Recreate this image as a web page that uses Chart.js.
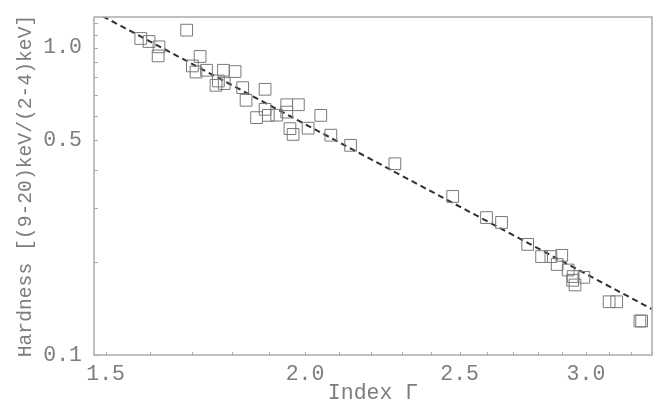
<!DOCTYPE html>
<html>
<head>
<meta charset="utf-8">
<title>Hardness vs photon index</title>
<script src="https://cdn.jsdelivr.net/npm/chart.js@4/dist/chart.umd.min.js"></script>
<style>
  html, body { margin: 0; padding: 0; background: #ffffff; }
  #wrap { width: 663px; height: 404px; }
</style>
</head>
<body>
<div id="wrap"><canvas id="chart" width="663" height="404"></canvas></div>
<script>
// Photon index of each source
const gammaValues = [
  1.686, 1.578, 1.597, 1.620, 1.618, 1.719, 1.700, 1.709, 1.735, 1.778,
  1.808, 1.765, 1.759, 1.780, 1.828, 1.888, 1.837, 1.888, 1.948, 1.981,
  1.865, 1.897, 1.920, 1.948, 2.046, 1.957, 1.966, 2.009, 2.076, 2.136,
  2.277, 2.475, 2.599, 2.656, 2.758, 2.814, 2.852, 2.897, 2.878, 2.924,
  2.945, 2.991, 2.953, 2.943, 3.102, 3.136, 3.243, 3.251
];
// Hardness ratio (9-20 keV)/(2-4 keV) of each source
const hardnessValues = [
  1.140, 1.071, 1.047, 1.006, 0.940, 0.936, 0.872, 0.833, 0.844, 0.844,
  0.836, 0.779, 0.754, 0.764, 0.741, 0.732, 0.674, 0.630, 0.652, 0.652,
  0.592, 0.602, 0.603, 0.617, 0.602, 0.545, 0.522, 0.547, 0.519, 0.481,
  0.419, 0.328, 0.280, 0.270, 0.229, 0.209, 0.209, 0.211, 0.197, 0.189,
  0.180, 0.179, 0.169, 0.175, 0.149, 0.149, 0.129, 0.129
];
// End points of the power-law relation (straight in log-log)
const fitGamma = [1.475, 3.3];
const fitHardness = [1.31, 0.141];

// Axis ticks
const xTickValues = [1.5, 1.6, 1.7, 1.8, 1.9, 2.0, 2.1, 2.2, 2.3, 2.4, 2.5, 2.6, 2.7, 2.8, 2.9, 3.0, 3.1, 3.2, 3.3];
const xTickLabels = [1.5, 2.0, 2.5, 3.0];
const yTickValues = [0.1, 0.2, 0.3, 0.4, 0.5, 0.6, 0.7, 0.8, 0.9, 1.0, 1.1, 1.2];
const yTickLabels = [0.1, 0.5, 1.0];

const FONT = "'Liberation Mono', 'Courier New', monospace";
const TEXT = '#7d7d7d';
const AXIS = '#ababab';

const points = gammaValues.map((g, i) => ({ x: g, y: hardnessValues[i] }));
const fitPoints = fitGamma.map((g, i) => ({ x: g, y: fitHardness[i] }));

const isLabelled = (list, v) => list.some(t => Math.abs(t - v) < 1e-9);

// Frame around the plot plus short inward tick marks
const framePlugin = {
  id: 'frame',
  afterDatasetsDraw(chart) {
    const { ctx, chartArea: a, scales } = chart;
    ctx.save();
    ctx.strokeStyle = AXIS;
    ctx.lineWidth = 1.5;
    ctx.strokeRect(a.left, a.top, a.right - a.left, a.bottom - a.top);
    ctx.lineWidth = 1;
    ctx.beginPath();
    xTickValues.forEach(v => {
      const px = Math.round(scales.x.getPixelForValue(v)) + 0.5;
      ctx.moveTo(px, a.bottom);
      ctx.lineTo(px, a.bottom - 3);
    });
    yTickValues.forEach(v => {
      const py = Math.round(scales.y.getPixelForValue(v)) + 0.5;
      ctx.moveTo(a.left, py);
      ctx.lineTo(a.left + 4, py);
    });
    ctx.stroke();
    ctx.restore();
  }
};

new Chart(document.getElementById('chart'), {
  type: 'scatter',
  data: {
    datasets: [
      {
        label: 'sources',
        data: points,
        pointStyle: 'rect',
        pointRadius: 8.3,
        pointHoverRadius: 8.3,
        pointBorderWidth: 1,
        pointBorderColor: '#7a7a7a',
        pointBackgroundColor: 'rgba(0,0,0,0)',
        showLine: false
      },
      {
        label: 'fit',
        type: 'line',
        data: fitPoints,
        borderColor: '#303030',
        borderWidth: 2,
        borderDash: [6, 4],
        pointRadius: 0,
        fill: false,
        showLine: true
      }
    ]
  },
  options: {
    responsive: false,
    animation: false,
    events: [],
    layout: { padding: { top: 17, right: 11, left: 0, bottom: 0 } },
    plugins: {
      legend: { display: false },
      tooltip: { enabled: false }
    },
    scales: {
      x: {
        type: 'logarithmic',
        position: 'bottom',
        min: 1.475,
        max: 3.3,
        bounds: 'data',
        afterBuildTicks: s => { s.ticks = xTickValues.map(v => ({ value: v })); },
        afterFit: s => { s.height = 49; s.paddingLeft = 0; s.paddingRight = 0; },
        grid: { display: false, drawTicks: false },
        border: { display: false },
        ticks: {
          autoSkip: false,
          maxRotation: 0,
          padding: 6,
          color: TEXT,
          font: { family: FONT, size: 21.5 },
          callback: v => isLabelled(xTickLabels, v) ? Number(v).toFixed(1) : ''
        },
        title: {
          display: true,
          text: 'Index Γ',
          color: TEXT,
          font: { family: FONT, size: 21.5, lineHeight: 1 },
          padding: { top: 0, bottom: 0 }
        }
      },
      y: {
        type: 'logarithmic',
        position: 'left',
        min: 0.1,
        max: 1.258,
        bounds: 'data',
        afterBuildTicks: s => { s.ticks = yTickValues.map(v => ({ value: v })); },
        afterFit: s => { s.width = 94; s.paddingTop = 0; s.paddingBottom = 0; },
        grid: { display: false, drawTicks: false },
        border: { display: false },
        ticks: {
          autoSkip: false,
          padding: 12,
          color: TEXT,
          font: { family: FONT, size: 21.5 },
          callback: v => isLabelled(yTickLabels, v) ? Number(v).toFixed(1) : ''
        },
        title: {
          display: true,
          text: 'Hardness [(9-20)keV/(2-4)keV]',
          color: TEXT,
          font: { family: FONT, size: 19.7, lineHeight: 1 },
          padding: { top: 15.5, bottom: 0 }
        }
      }
    }
  },
  plugins: [framePlugin]
});
</script>
</body>
</html>
